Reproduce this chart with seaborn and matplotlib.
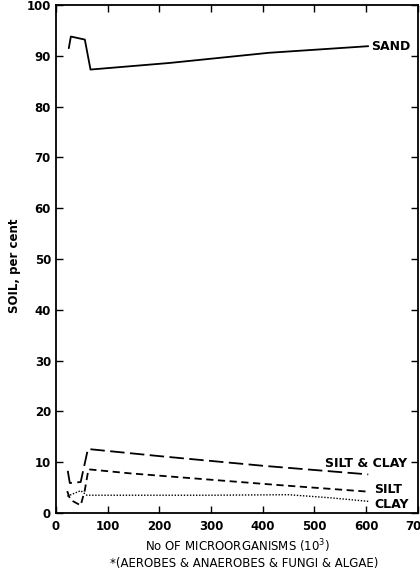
import matplotlib
matplotlib.use("Agg")
import matplotlib.pyplot as plt
import seaborn as sns
import pandas as pd

sand_x = [25, 29, 56, 67, 220, 412, 604]
sand_y = [91.5, 93.8, 93.2, 87.3, 88.6, 90.6, 91.9]

siltclay_x = [23, 27, 48, 62, 200, 400, 604]
siltclay_y = [8.3, 5.9, 6.1, 12.6, 11.2, 9.3, 7.6]

silt_x = [22, 28, 48, 56, 63, 144, 431, 604]
silt_y = [4.3, 2.6, 1.5, 4.5, 8.6, 7.8, 5.5, 4.2]

clay_x = [22, 48, 60, 300, 450, 530, 604]
clay_y = [3.3, 4.4, 3.5, 3.5, 3.6, 3.0, 2.3]

x_ticks = [0, 100, 200, 300, 400, 500, 600, 700]
y_ticks = [0, 10, 20, 30, 40, 50, 60, 70, 80, 90, 100]

sns.set_style("ticks")
plt.rcParams["font.family"] = ["DejaVu Sans"]
plt.rcParams["text.color"] = "black"

fig = plt.figure(figsize=(4.2, 5.73), dpi=100)
ax = fig.add_axes([0.133, 0.1047, 0.862, 0.8865])

lw = 1.3
sns.lineplot(x=sand_x, y=sand_y, ax=ax, color="black", lw=lw, sort=False, estimator=None)
sns.lineplot(x=siltclay_x, y=siltclay_y, ax=ax, color="black", lw=lw, sort=False, estimator=None)
ax.lines[-1].set_dashes([8, 3])
sns.lineplot(x=silt_x, y=silt_y, ax=ax, color="black", lw=lw, sort=False, estimator=None)
ax.lines[-1].set_dashes([4, 2.5])
sns.lineplot(x=clay_x, y=clay_y, ax=ax, color="black", lw=1.0, sort=False, estimator=None)
ax.lines[-1].set_dashes([1, 1.2])

ax.set_xlim(0, 700)
ax.set_ylim(0, 100)
ax.set_xticks(x_ticks)
ax.set_yticks(y_ticks)
ax.tick_params(direction="in", top=True, right=True, labeltop=False, labelright=False,
               length=5, width=1, labelsize=8.5, colors="black")
for lab in ax.get_xticklabels() + ax.get_yticklabels():
    lab.set_fontweight("bold")
for s in ax.spines.values():
    s.set_linewidth(1.3)
    s.set_color("black")
ax.tick_params(axis="x", pad=5)

fs = 9
ax.text(610, 91.8, "SAND", fontsize=fs, fontweight="bold", va="center", ha="left", color="black")
ax.text(521, 9.7, "SILT & CLAY", fontsize=fs, fontweight="bold", va="center", ha="left", color="black")
ax.text(616, 4.7, "SILT", fontsize=fs, fontweight="bold", va="center", ha="left", color="black")
ax.text(616, 1.7, "CLAY", fontsize=fs, fontweight="bold", va="center", ha="left", color="black")

fig.text(15 / 420, 1 - 266 / 573, "SOIL, per cent", fontsize=8.5, fontweight="bold",
         rotation=90, ha="center", va="center", color="black")
fig.text(238 / 420, 1 - 546 / 573, "No OF MICROORGANISMS (10$^3$)", fontsize=8.5,
         ha="center", va="center", color="black")
fig.text(244 / 420, 1 - 563 / 573, "*(AEROBES & ANAEROBES & FUNGI & ALGAE)", fontsize=8.5,
         ha="center", va="center", color="black")

fig.savefig("out.png", dpi=100)
